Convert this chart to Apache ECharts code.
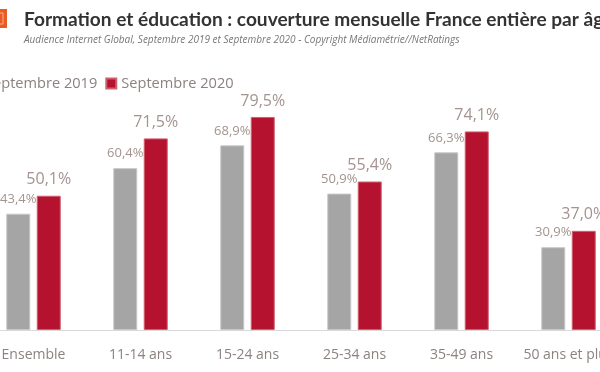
<!DOCTYPE html>
<html><head><meta charset="utf-8">
<script src="https://cdn.jsdelivr.net/npm/echarts@6/dist/echarts.min.js"></script>
<style>html,body{margin:0;padding:0;background:#fff;overflow:hidden}#c{width:680px;height:372px;margin-left:-40px}</style>
</head><body><div id="c"></div>
<script>
const categories = ["Ensemble", "11-14 ans", "15-24 ans", "25-34 ans", "35-49 ans", "50 ans et plus"];
const sept2019 = [43.4, 60.4, 68.9, 50.9, 66.3, 30.9];
const sept2020 = [50.1, 71.5, 79.5, 55.4, 74.1, 37.0];
const seriesNames = ["Septembre 2019", "Septembre 2020"];
const titleText = "Formation et éducation : couverture mensuelle France entière par âge";
const subtitleText = "Audience Internet Global, Septembre 2019 et Septembre 2020 - Copyright Médiamétrie//NetRatings";

const fmt = v => v.toFixed(1).replace('.', ',') + '%';
const font = "'Open Sans', sans-serif";
const chart = echarts.init(document.getElementById('c'), null, {renderer: 'canvas'});
chart.setOption({
  animation: false,
  title: {
    text: titleText, subtext: subtitleText, left: 59, top: 5, itemGap: 6,
    textStyle: {fontFamily: "Lato, sans-serif", fontSize: 19.1, fontWeight: 'bold', color: '#333'},
    subtextStyle: {fontFamily: font, fontSize: 10, fontStyle: 'italic', color: '#777'}
  },
  graphic: [
    {type: 'rect', shape: {x: 28, y: 9, width: 19, height: 19}, style: {fill: '#ec5a24'}},
    {type: 'rect', shape: {x: 32, y: 13, width: 11, height: 11}, style: {fill: 'none', stroke: '#f7b08f', lineWidth: 1}}
  ],
  legend: {
    data: seriesNames, left: 4, top: 71, itemWidth: 10, itemHeight: 10, itemGap: 8,
    icon: 'rect',
    textStyle: {fontFamily: font, fontSize: 14.6, color: '#8c8280'}
  },
  grid: {left: 20, right: 18, top: 62, bottom: 42, containLabel: false},
  xAxis: {
    type: 'category', data: categories,
    axisLine: {lineStyle: {color: '#d9d9d9'}}, axisTick: {show: false},
    axisLabel: {interval: 0, fontFamily: font, fontSize: 14, color: '#8c8280', margin: 18}
  },
  yAxis: {type: 'value', min: 0, max: 100, show: false, splitLine: {show: false}},
  series: [
    {name: seriesNames[0], type: 'bar', data: sept2019, barWidth: 24, barGap: '27%',
     itemStyle: {color: '#a5a5a5', borderColor: '#c8c8c8', borderWidth: 1},
     label: {show: true, position: 'top', distance: 8, formatter: p => fmt(p.value),
       fontFamily: font, fontSize: 13, color: '#a3948f'}},
    {name: seriesNames[1], type: 'bar', data: sept2020, barWidth: 24,
     itemStyle: {color: '#b5122f', borderColor: '#d06070', borderWidth: 1},
     label: {show: true, position: 'top', distance: 8, formatter: p => fmt(p.value),
       fontFamily: font, fontSize: 16, color: '#a3948f'}}
  ]
});
</script></body></html>
